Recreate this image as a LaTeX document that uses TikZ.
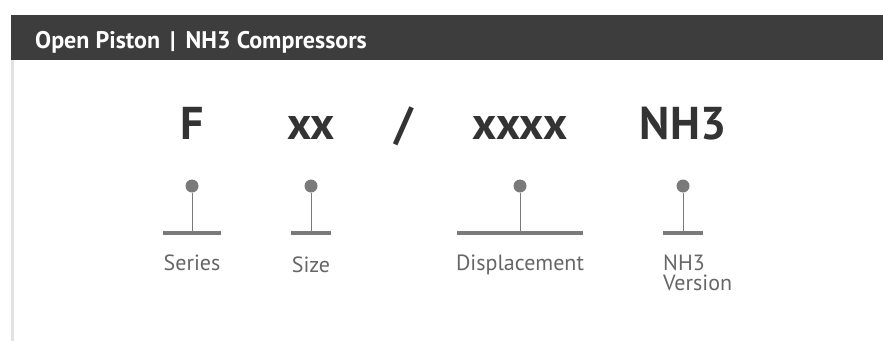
\documentclass[tikz,border=0pt]{standalone}
\usepackage{fontspec}
\setmainfont{PT Sans}
\usepackage{xcolor}
\usetikzlibrary{positioning}
\definecolor{barGray}{HTML}{3D3D3D}
\definecolor{codeGray}{HTML}{333333}
\definecolor{stemGray}{HTML}{7A7A7A}
\definecolor{labelGray}{HTML}{666666}
\definecolor{edgeGray}{HTML}{E2E2E2}

\begin{document}
\begin{tikzpicture}[x=1pt,y=-1pt,
  code/.style={anchor=base, text=codeGray, font=\fontsize{46}{46}\selectfont\bfseries, inner sep=0pt},
  tag/.style={anchor=north, text=labelGray, font=\fontsize{22}{20}\selectfont, inner sep=0pt, align=center},
  pin/.style={circle, fill=stemGray, inner sep=0pt, minimum size=13pt},
  stem/.style={draw=stemGray, line width=1pt},
  base/.style={draw=stemGray, line width=3.5pt}]
  \useasboundingbox (0,0) rectangle (883,341);

  % header bar and left edge
  \fill[barGray] (11,15) rectangle (883,60);
  \fill[edgeGray] (11,60) rectangle (14,341);
  \node[anchor=base west, text=white, font=\fontsize{24}{24}\selectfont\bfseries, inner sep=0pt]
    (title) at (35,48) {Open Piston \,|\, NH3 Compressors};

  % type code
  \node[code] (cF)   at (192,139) {F};
  \node[code] (cxx)  at (311,139) {xx};
  \node[code] (cSl)  at (404,139) {/};
  \node[code] (cx4)  at (520,139) {xxxx};
  \node[code] (cNH)  at (683,139) {NH3};

  % pins
  \foreach \n/\x/\w in {F/192/29, S/311/20, D/520/63, N/683/20}{
    \node[pin] (p\n) at (\x,186) {};
    \coordinate (m\n) at (\x,233);
    \coordinate (l\n) at (\x-\w,233);
    \coordinate (r\n) at (\x+\w,233);
    \draw[stem] (p\n) -- (m\n);
    \draw[base] (l\n) -- (r\n);
  }

  % descriptions
  \node[tag] (tF) at (192,255) {Series};
  \node[tag] (tS) at (311,257) {Size};
  \node[tag] (tD) at (520,255) {Displacement};
  \node[tag, anchor=north west, align=left] (tN) at (663,255) {NH3\\Version};
\end{tikzpicture}
\end{document}
